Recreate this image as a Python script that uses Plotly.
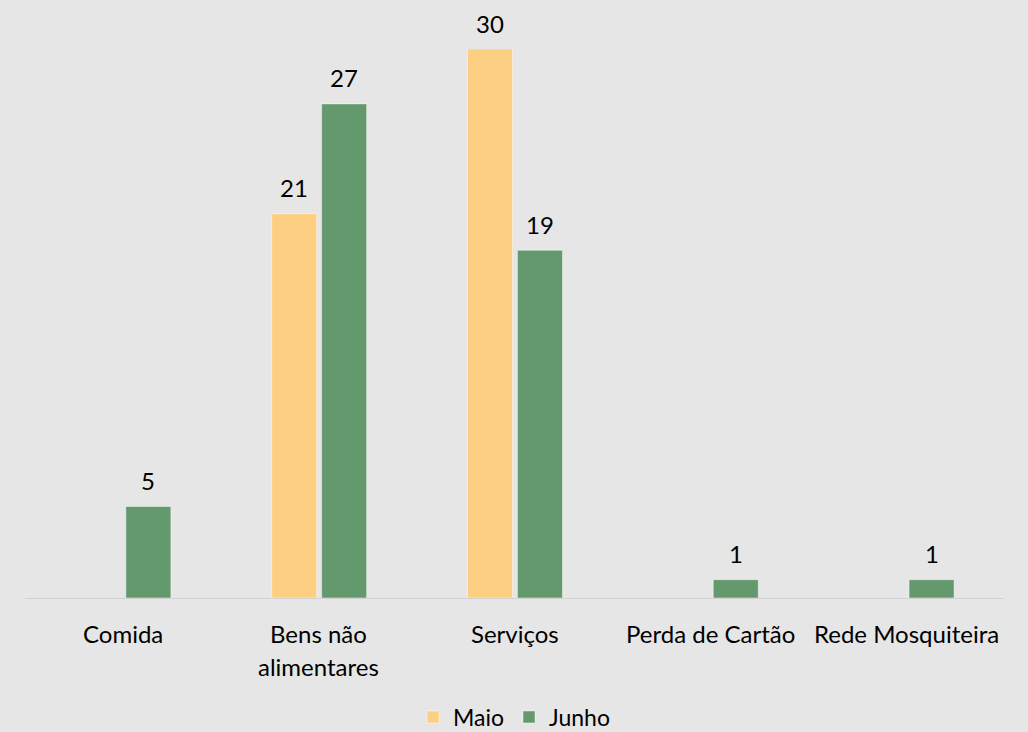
import plotly.graph_objects as go

categories = ["Comida", "Bens não alimentares", "Serviços", "Perda de Cartão", "Rede Mosquiteira"]
tick_labels = ["Comida", "Bens não<br>alimentares", "Serviços", "Perda de Cartão", "Rede Mosquiteira"]
maio = [None, 21, 30, None, None]
junho = [5, 27, 19, 1, 1]

series = [("Maio", maio, "#FDCF83", -0.24), ("Junho", junho, "#64986D", 0.015)]
BAR_W = 0.23
FONT = "Lato, Carlito, Calibri, sans-serif"
FS = 24
BG = "#E6E6E6"

fig = go.Figure()
annotations = []
for name, vals, color, off in series:
    fig.add_trace(go.Bar(
        name=name, x=list(range(len(categories))), y=vals,
        marker=dict(color=color, line=dict(color="rgba(255,255,255,0.45)", width=1)),
        width=BAR_W, offset=off,
    ))
    for i, v in enumerate(vals):
        if v is None:
            continue
        annotations.append(dict(
            x=i + off + BAR_W / 2, y=v, xref="x", yref="y", text=str(v),
            showarrow=False, yanchor="middle", yshift=26,
            font=dict(family=FONT, size=FS, color="#000000"),
        ))

# category labels (one annotation per line, Excel-like line spacing)
for i, lab in enumerate(tick_labels):
    for j, line in enumerate(lab.split("<br>")):
        annotations.append(dict(
            x=i, y=0, xref="x", yref="paper", text=line, showarrow=False,
            yanchor="middle", yshift=-35 - 33 * j,
            font=dict(family=FONT, size=FS, color="#000000"),
        ))

fig.update_layout(
    width=1028, height=732,
    paper_bgcolor=BG, plot_bgcolor=BG,
    margin=dict(l=25, r=24, t=49, b=134, autoexpand=False),
    font=dict(family=FONT, size=FS, color="#000000"),
    barmode="group",
    showlegend=True,
    legend=dict(orientation="h", x=(413 - 25) / 979, xanchor="left", y=-0.2168, yanchor="middle",
                font=dict(family=FONT, size=23), itemwidth=30, traceorder="normal",
                bgcolor="rgba(0,0,0,0)"),
    annotations=annotations,
    xaxis=dict(
        range=[-0.5, len(categories) - 0.5],
        showgrid=False, zeroline=False, showline=True, linecolor="#D2D2D2", linewidth=1,
        showticklabels=False, ticks="",
    ),
    yaxis=dict(range=[0, 30], visible=False, showgrid=False, zeroline=False),
)

fig.write_html("out.html", config={"displayModeBar": False},
               post_script="document.body.style.margin='0';")
